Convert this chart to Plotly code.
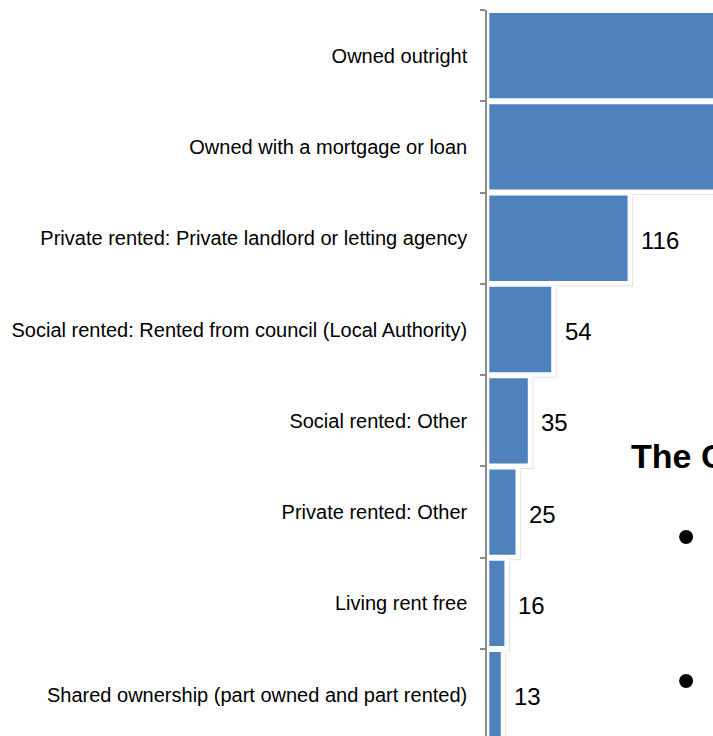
import plotly.graph_objects as go

categories = [
    "Owned outright",
    "Owned with a mortgage or loan",
    "Private rented: Private landlord or letting agency",
    "Social rented: Rented from council (Local Authority)",
    "Social rented: Other",
    "Private rented: Other",
    "Living rent free",
    "Shared ownership (part owned and part rented)",
]
values = [214, 198, 116, 54, 35, 25, 16, 13]

title_text = "The Census"
bullets = ["•", "•"]

X_MAX = 183.5
BLUE = "#4F81BD"

fig = go.Figure()

# soft drop shadow behind each bar
fig.add_trace(go.Bar(
    y=categories, x=values, orientation="h",
    base=[2.6] * len(values),
    width=0.985, offset=-0.4925 + 0.035,
    marker=dict(color="rgba(0,0,0,0.12)", line=dict(width=0)),
    hoverinfo="skip", showlegend=False,
))

fig.add_trace(go.Bar(
    y=categories, x=values, orientation="h",
    width=0.985,
    marker=dict(color=BLUE, line=dict(color="white", width=4.6)),
    showlegend=False,
))

for c, v in zip(categories, values):
    fig.add_annotation(
        x=v, y=c, xref="x", yref="y", text=str(v), showarrow=False,
        xanchor="left", yanchor="middle", xshift=9, yshift=-2,
        font=dict(family="Liberation Sans, Arial", size=24, color="#000000"),
    )

W, H = 713, 736
L, T = 487, 10

slide_texts = [(f"<b>{title_text}</b>", 629, 456, 34)]
slide_texts += [(b, 675, yy, 52) for b, yy in zip(bullets, [536, 680])]
for txt, px, py, fs in slide_texts:
    fig.add_annotation(
        x=(px - L) / (W - L), y=1 - (py - T) / (H - T),
        xref="paper", yref="paper", text=txt,
        showarrow=False, xanchor="left", yanchor="middle",
        font=dict(family="Liberation Sans, Arial", size=fs, color="#000000"),
    )

n_rows = (H - T) / 91.29
fig.update_layout(
    width=W, height=H,
    margin=dict(l=L, r=0, t=T, b=0, pad=0),
    paper_bgcolor="white", plot_bgcolor="white",
    barmode="overlay",
    bargap=0.015,
    font=dict(family="Liberation Sans, Arial", size=20, color="#000000"),
    xaxis=dict(range=[0, X_MAX], showgrid=False, zeroline=False,
               showticklabels=False, ticks="", showline=False, fixedrange=True),
    yaxis=dict(
        categoryorder="array", categoryarray=categories,
        range=[-0.5 + n_rows, -0.5],
        showgrid=False, zeroline=False,
        showline=True, linecolor="#8c8c8c", linewidth=1.5,
        ticks="outside", ticklen=5, tickwidth=1.5, tickcolor="#8c8c8c",
        tickson="boundaries", ticklabelstandoff=14,
        tickfont=dict(family="Liberation Sans, Arial", size=20, color="#000000"),
        automargin=False,
    ),
)

fig.write_html(
    "out.html",
    config={"displayModeBar": False},
    post_script="document.body.style.margin='0';document.body.style.overflow='hidden';",
)
